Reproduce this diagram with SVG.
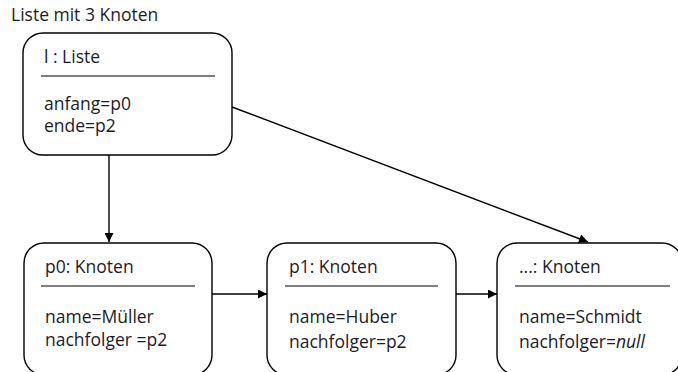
<svg xmlns="http://www.w3.org/2000/svg" width="678" height="372" viewBox="0 0 678 372">
<defs>
<style>
text{font-family:"Open Sans","Liberation Sans",sans-serif;font-size:17.5px;fill:#1c1c28}
.box{fill:#fff;stroke:#000;stroke-width:1.4}
.sep{stroke:#000;stroke-width:1.2}
.con{stroke:#000;stroke-width:1.4;fill:none;marker-end:url(#ah)}
</style>
<marker id="ah" viewBox="0 0 10 10" refX="10" refY="5" markerWidth="11" markerHeight="9" markerUnits="userSpaceOnUse" orient="auto">
<path d="M0,0 L10,5 L0,10 z" fill="#000"/>
</marker>
</defs>
<rect width="678" height="372" fill="#fff"/>
<text x="11" y="21">Liste mit 3 Knoten</text>
<g id="connectors">
<line class="con" x1="109" y1="155" x2="109" y2="242"/>
<line class="con" x1="232" y1="107" x2="588" y2="242"/>
<line class="con" x1="212" y1="294" x2="267" y2="294"/>
<line class="con" x1="456" y1="294" x2="497" y2="294"/>
</g>
<g id="liste">
<rect class="box" x="23" y="33" width="209" height="122" rx="20"/>
<text x="44" y="63">l : Liste</text>
<line class="sep" x1="41" y1="76" x2="215" y2="76"/>
<text x="44" y="110">anfang=p0</text>
<text x="44" y="132">ende=p2</text>
</g>
<g id="p0">
<rect class="box" x="24" y="243" width="188" height="132" rx="20"/>
<text x="45" y="273">p0: Knoten</text>
<line class="sep" x1="41" y1="286" x2="195" y2="286"/>
<text x="45" y="323">name=Müller</text>
<text x="45" y="346">nachfolger =p2</text>
</g>
<g id="p1">
<rect class="box" x="267" y="243" width="189" height="132" rx="20"/>
<text x="289" y="273">p1: Knoten</text>
<line class="sep" x1="285" y1="286" x2="438" y2="286"/>
<text x="289" y="323">name=Huber</text>
<text x="289" y="348">nachfolger=p2</text>
</g>
<g id="p2">
<rect class="box" x="497" y="243" width="185" height="132" rx="20"/>
<text x="519" y="273">...: Knoten</text>
<line class="sep" x1="515" y1="286" x2="670" y2="286"/>
<text x="519" y="323">name=Schmidt</text>
<text x="519" y="348">nachfolger=<tspan font-style="italic">null</tspan></text>
</g>
</svg>
